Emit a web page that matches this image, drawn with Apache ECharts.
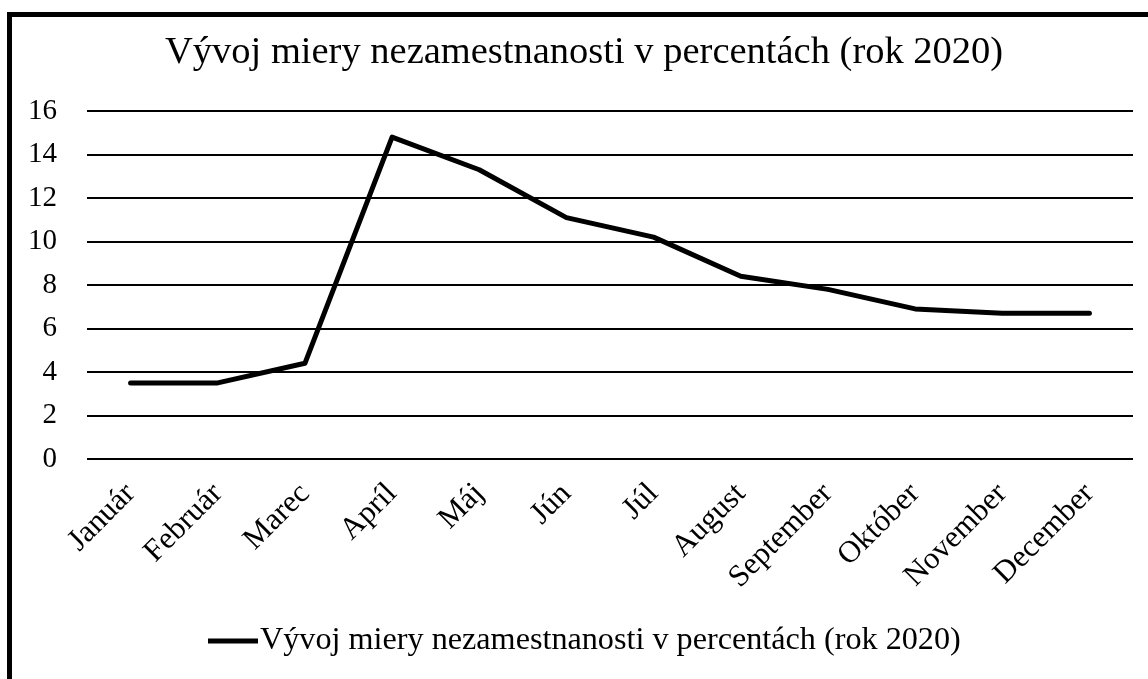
<!DOCTYPE html>
<html><head><meta charset="utf-8">
<script src="https://cdn.jsdelivr.net/npm/echarts@6/dist/echarts.min.js"></script>
<style>html,body{margin:0;padding:0;background:#fff}#c{width:1148px;height:679px}</style>
</head><body><div id="c"></div>
<script>
const categories = ['Január','Február','Marec','Apríl','Máj','Jún','Júl','August','September','Október','November','December'];
const values = [3.5, 3.5, 4.4, 14.8, 13.3, 11.1, 10.2, 8.4, 7.8, 6.9, 6.7, 6.7];
const seriesName = 'Vývoj miery nezamestnanosti v percentách (rok 2020)';
const titleText = 'Vývoj miery nezamestnanosti v percentách (rok 2020)';
const FONT = '"Liberation Serif","Times New Roman",serif';
const chart = echarts.init(document.getElementById('c'), null, {renderer:'canvas'});
chart.setOption({
  animation:false,
  backgroundColor:'#fff',
  graphic:[{type:'rect',left:7,top:12,shape:{width:1200,height:700},style:{fill:'none',stroke:'#000',lineWidth:5},silent:true,z:-1}],
  title:{text:titleText,left:160,top:28,textStyle:{fontFamily:FONT,fontWeight:'normal',fontSize:38.5,color:'#000'}},
  legend:{data:[{name:seriesName,icon:'path://M0,0 L10,0 L10,1 L0,1 Z'}],top:620,left:203,itemWidth:54,itemHeight:5,itemGap:2,textStyle:{fontFamily:FONT,fontSize:32.2,color:'#000',padding:[0,0,0,-5]}},
  grid:{left:87,right:15,top:111,bottom:220,containLabel:false},
  xAxis:{type:'category',data:categories,boundaryGap:true,
    axisLine:{show:false},axisTick:{show:false},
    axisLabel:{rotate:45,fontFamily:FONT,fontSize:31,color:'#000',margin:30,interval:0}},
  yAxis:{type:'value',min:0,max:16,interval:2,
    axisLine:{show:false},axisTick:{show:false},
    axisLabel:{fontFamily:FONT,fontSize:29,color:'#000',margin:30},
    splitLine:{lineStyle:{color:'#000',width:2}}},
  series:[{name:seriesName,type:'line',data:values,symbol:'none',
    lineStyle:{color:'#000',width:5,cap:'round',join:'round'},itemStyle:{color:'#000'}}]
});
</script></body></html>
